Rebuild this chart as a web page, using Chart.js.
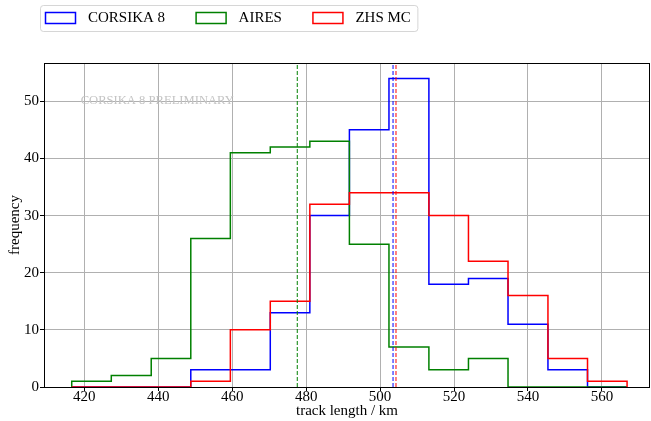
<!DOCTYPE html>
<html>
<head>
<meta charset="utf-8">
<script src="https://cdn.jsdelivr.net/npm/chart.js@4.4.1/dist/chart.umd.min.js"></script>
<style>
  html, body { margin: 0; padding: 0; background: #fff; }
</style>
</head>
<body>
<canvas id="hist" width="651" height="421"></canvas>
<script>
// histogram bins (km) and counts per bin
const binEdges = [416.6, 427.3, 438.1, 448.8, 459.5, 470.3, 481.0, 491.7, 502.4, 513.2, 523.9, 534.6, 545.4, 556.1, 566.8];
const corsikaCounts = [0, 0, 0, 3, 3, 13, 30, 45, 54, 18, 19, 11, 3, 0];
const airesCounts   = [1, 2, 5, 26, 41, 42, 43, 25, 7, 3, 5, 0, 0, 0];
const zhsCounts     = [0, 0, 0, 1, 10, 15, 32, 34, 34, 30, 22, 16, 5, 1];

const seriesLabels = ['CORSIKA 8', 'AIRES', 'ZHS MC'];
const seriesColors = ['#0000ff', '#008000', '#ff0000'];
const meanValues = [503.5, 477.6, 504.3];

const xTicks = [420, 440, 460, 480, 500, 520, 540, 560];
const yTicks = [0, 10, 20, 30, 40, 50];
const xRange = [409.1, 573.0];
const yRange = [0, 56.7];
const watermark = 'CORSIKA 8 PRELIMINARY';

const FONT = '"Liberation Serif", "Times New Roman", serif';
Chart.defaults.font.family = FONT;
Chart.defaults.font.size = 15;
Chart.defaults.color = '#000';

// outline like matplotlib histtype='step'
function stepOutline(edges, counts) {
    const pts = [{x: edges[0], y: 0}];
    counts.forEach((c, i) => {
        pts.push({x: edges[i], y: c});
        pts.push({x: edges[i + 1], y: c});
    });
    pts.push({x: edges[edges.length - 1], y: 0});
    return pts;
}

const allCounts = [corsikaCounts, airesCounts, zhsCounts];

const histSets = allCounts.map((counts, i) => ({
    label: seriesLabels[i],
    data: stepOutline(binEdges, counts),
    borderColor: seriesColors[i],
    borderWidth: 1.5,
    pointRadius: 0,
    fill: false,
    order: 3 - i
}));

const meanSets = meanValues.map((m, i) => ({
    label: 'mean ' + seriesLabels[i],
    data: [{x: m, y: yRange[0]}, {x: m, y: yRange[1]}],
    borderColor: seriesColors[i],
    borderWidth: 1,
    borderDash: [4, 2],
    pointRadius: 0,
    fill: false,
    order: 0
}));

const legendBox = {
    id: 'legendBox',
    afterDraw(chart) {
        const ctx = chart.ctx;
        ctx.save();
        ctx.font = '15px ' + FONT;
        const widths = seriesLabels.map(t => ctx.measureText(t).width);
        let boxW = 5 + 6.5;
        widths.forEach((w, i) => { boxW += 43 + w + (i < widths.length - 1 ? 30.5 : 0); });
        ctx.beginPath();
        ctx.roundRect(40.5, 5.5, boxW, 26, 3);
        ctx.fillStyle = 'rgba(255,255,255,0.8)';
        ctx.fill();
        ctx.strokeStyle = 'rgba(204,204,204,0.8)';
        ctx.lineWidth = 1;
        ctx.stroke();
        let x = 45;
        seriesLabels.forEach((t, i) => {
            ctx.strokeStyle = seriesColors[i];
            ctx.lineWidth = 1.5;
            ctx.strokeRect(x + 0.5, 12.5, 30, 11);
            ctx.fillStyle = '#000';
            ctx.textBaseline = 'middle';
            ctx.textAlign = 'left';
            ctx.fillText(t, x + 43, 18);
            x += 43 + widths[i] + 30.5;
        });
        ctx.restore();
    }
};

const axesExtras = {
    id: 'axesExtras',
    beforeDatasetsDraw(chart) {
        const {ctx, chartArea: a} = chart;
        ctx.save();
        ctx.font = '12.6px ' + FONT;
        ctx.fillStyle = '#c4c4c4';
        ctx.textBaseline = 'middle';
        ctx.fillText(watermark, a.left + 0.0605 * a.width, a.top + 0.116 * a.height);
        ctx.restore();
    },
    afterDatasetsDraw(chart) {
        const {ctx, chartArea: a} = chart;
        ctx.save();
        ctx.strokeStyle = '#000';
        ctx.lineWidth = 1;
        const l = Math.round(a.left) + 0.5, t = Math.round(a.top) + 0.5;
        const r = Math.round(a.right) - 0.5, b = Math.round(a.bottom) + 0.5;
        ctx.strokeRect(l, t, r - l, b - t);
        ctx.restore();
    }
};

new Chart(document.getElementById('hist').getContext('2d'), {
    type: 'line',
    data: { datasets: [...histSets, ...meanSets] },
    options: {
        responsive: false,
        animation: false,
        layout: { padding: { top: 63, left: 0, right: 1, bottom: 0 } },
        plugins: { legend: { display: false }, tooltip: { enabled: false } },
        elements: { line: { tension: 0 } },
        scales: {
            x: {
                type: 'linear',
                min: xRange[0],
                max: xRange[1],
                afterBuildTicks: s => { s.ticks = xTicks.map(v => ({value: v})); },
                afterFit: s => { s.height = 34; },
                ticks: { font: { size: 15, lineHeight: 1 }, padding: -1 },
                grid: { color: '#b0b0b0', lineWidth: 1, tickColor: '#000', tickLength: 4 },
                border: { display: false },
                title: { display: true, text: 'track length / km', font: { size: 15 }, padding: { top: 0, bottom: 1 } }
            },
            y: {
                min: yRange[0],
                max: yRange[1],
                afterBuildTicks: s => { s.ticks = yTicks.map(v => ({value: v})); },
                afterFit: s => { s.width = 44; },
                ticks: { font: { size: 15 }, padding: 1 },
                grid: { color: '#b0b0b0', lineWidth: 1, tickColor: '#000', tickLength: 4 },
                border: { display: false },
                title: { display: true, text: 'frequency', font: { size: 15 }, padding: { top: 6, bottom: 0 } }
            }
        }
    },
    plugins: [legendBox, axesExtras]
});
</script>
</body>
</html>
